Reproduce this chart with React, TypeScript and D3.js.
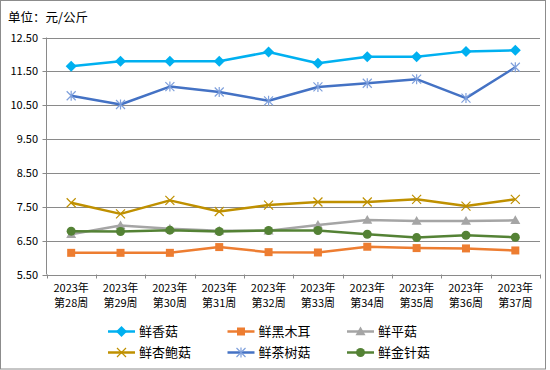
import React from "react";
import * as d3 from "d3";

const categories = ["第28周","第29周","第30周","第31周","第32周","第33周","第34周","第35周","第36周","第37周"];
const yearLabel = "2023年";
const yTicks = [5.5, 6.5, 7.5, 8.5, 9.5, 10.5, 11.5, 12.5];

const xianggu = [11.65, 11.8, 11.8, 11.8, 12.07, 11.74, 11.93, 11.93, 12.09, 12.12];
const heimuer = [6.14, 6.14, 6.14, 6.31, 6.16, 6.15, 6.32, 6.28, 6.27, 6.21];
const pinggu = [6.69, 6.95, 6.85, 6.79, 6.79, 6.96, 7.11, 7.08, 7.08, 7.1];
const xingbaogu = [7.62, 7.29, 7.69, 7.36, 7.55, 7.64, 7.64, 7.72, 7.52, 7.72];
const chashugu = [10.78, 10.52, 11.05, 10.89, 10.63, 11.04, 11.15, 11.27, 10.71, 11.62];
const jinzhengu = [6.78, 6.77, 6.81, 6.77, 6.8, 6.8, 6.69, 6.59, 6.66, 6.6];

const seriesNames = ["鲜香菇","鲜黑木耳","鲜平菇","鲜杏鲍菇","鲜茶树菇","鲜金针菇"];
const seriesData = [xianggu, heimuer, pinggu, xingbaogu, chashugu, jinzhengu];
const seriesColors = ["#00B0F0","#ED7D31","#A5A5A5","#BF9000","#4472C4","#548235"];
const seriesMarkers = ["diamond","square","triangle","x","asterisk","circle"];

const W = 550, H = 370;
const left = 46.5, right = 540, top = 37.5, bottom = 274.5;
const font = "'Noto Sans CJK SC', 'DejaVu Sans', sans-serif";

function Marker({ type, x, y, color }: { type: string; x: number; y: number; color: string }) {
  if (type === "diamond") {
    const s = 5.5;
    return <path d={`M${x},${y - s}L${x + s},${y}L${x},${y + s}L${x - s},${y}Z`} fill={color} />;
  }
  if (type === "square") {
    const s = 4;
    return <rect x={x - s} y={y - s} width={2 * s} height={2 * s} fill={color} />;
  }
  if (type === "triangle") {
    const s = 5;
    return <path d={`M${x},${y - s}L${x + s},${y + s * 0.75}L${x - s},${y + s * 0.75}Z`} fill={color} />;
  }
  if (type === "circle") {
    return <circle cx={x} cy={y} r={4.5} fill={color} />;
  }
  if (type === "x") {
    const s = 4.5;
    return <path d={`M${x - s},${y - s}L${x + s},${y + s}M${x - s},${y + s}L${x + s},${y - s}`} stroke={color} strokeWidth={1.2} fill="none" />;
  }
  if (type === "asterisk") {
    const s = 4.5;
    return (
      <path
        d={`M${x - s},${y - s}L${x + s},${y + s}M${x - s},${y + s}L${x + s},${y - s}M${x},${y - s - 0.5}L${x},${y + s + 0.5}`}
        stroke={"#7FA0DC"} strokeWidth={1.2} fill="none" />
    );
  }
  return null;
}

export default function App() {
  const x = d3.scaleBand<string>().domain(categories).range([left, right]);
  const y = d3.scaleLinear().domain([5.5, 12.5]).range([bottom, top]);
  const line = d3.line<number>()
    .x((_, i) => (x(categories[i]) as number) + x.bandwidth() / 2)
    .y((d) => y(d));

  const boundaries = categories.map((c) => x(c) as number).concat([right]);

  return (
    <svg width={W} height={H} style={{ position: "absolute", left: 0, top: 0, background: "#fff" }}>
      <rect x={0.5} y={0.5} width={545} height={368.5} fill="#fff" stroke="#8c8c8c" strokeWidth={1} />
      <text x={8} y={22} fontFamily={font} fontSize={12.5} fill="#000">单位：元/公斤</text>
      {yTicks.map((t) => (
        <g key={t}>
          <line x1={left - 4} x2={right} y1={Math.round(y(t)) + 0.5} y2={Math.round(y(t)) + 0.5} stroke="#8a8a8a" strokeWidth={1} />
          <text x={38} y={y(t) + 4} textAnchor="end" fontFamily={font} fontSize={11} fill="#000">{t.toFixed(2)}</text>
        </g>
      ))}
      <line x1={left} x2={left} y1={top} y2={bottom} stroke="#8a8a8a" strokeWidth={1} />
      {boundaries.map((b, i) => (
        <line key={i} x1={Math.round(b) + 0.5} x2={Math.round(b) + 0.5} y1={bottom} y2={bottom + 4} stroke="#8a8a8a" strokeWidth={1} />
      ))}
      {categories.map((c) => {
        const cx = (x(c) as number) + x.bandwidth() / 2;
        return (
          <g key={c}>
            <text x={cx} y={292} textAnchor="middle" fontFamily={font} fontSize={11} fill="#000">{yearLabel}</text>
            <text x={cx} y={307} textAnchor="middle" fontFamily={font} fontSize={11} fill="#000">{c}</text>
          </g>
        );
      })}
      {seriesData.map((data, si) => (
        <g key={si}>
          <path d={line(data) || ""} fill="none" stroke={seriesColors[si]} strokeWidth={2.5} strokeLinejoin="round" />
          {data.map((v, i) => (
            <Marker key={i} type={seriesMarkers[si]} x={(x(categories[i]) as number) + x.bandwidth() / 2} y={y(v)} color={seriesColors[si]} />
          ))}
        </g>
      ))}
      {seriesNames.map((n, si) => {
        const col = si % 3, row = Math.floor(si / 3);
        const lx = 108 + col * 119.5;
        const ly = 331.5 + row * 21;
        return (
          <g key={n}>
            <line x1={lx} x2={lx + 27} y1={ly} y2={ly} stroke={seriesColors[si]} strokeWidth={2.5} />
            <Marker type={seriesMarkers[si]} x={lx + 13.5} y={ly} color={seriesColors[si]} />
            <text x={lx + 31} y={ly + 4.5} fontFamily={font} fontSize={13} fill="#000">{n}</text>
          </g>
        );
      })}
    </svg>
  );
}
